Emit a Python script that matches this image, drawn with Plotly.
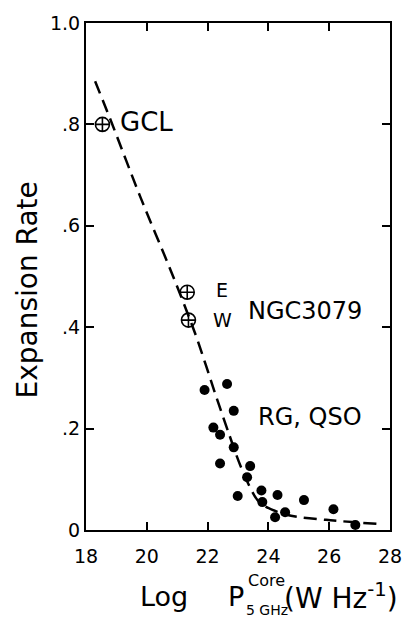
import plotly.graph_objects as go

# Data
rg_x = [21.9, 22.64, 22.19, 22.41, 22.86, 22.86, 22.41, 23.4, 23.3, 22.99, 23.77, 23.8, 24.3, 24.22, 24.55, 25.17, 26.14, 26.86]
rg_y = [0.276, 0.288, 0.202, 0.188, 0.235, 0.163, 0.131, 0.126, 0.104, 0.067, 0.078, 0.055, 0.069, 0.025, 0.035, 0.059, 0.041, 0.010]

open_x = [18.54, 21.33, 21.37]
open_y = [0.80, 0.469, 0.414]

fit_x = [18.3, 18.8, 19.8, 20.8, 21.6, 22.3, 22.7, 23.1, 23.7, 24.6, 25.9, 27.6]
fit_y = [0.885, 0.81, 0.655, 0.51, 0.386, 0.26, 0.19, 0.124, 0.055, 0.03, 0.02, 0.012]

x_ticks = [18, 20, 22, 24, 26, 28]
y_ticks = [0, 0.2, 0.4, 0.6, 0.8, 1.0]
y_ticktext = ["0", ".2", ".4", ".6", ".8", "1.0"]

FONT = "DejaVu Sans"

fig = go.Figure()
fig.add_trace(go.Scatter(x=fit_x, y=fit_y, mode="lines",
                         line=dict(color="black", width=2.5, dash="13px,7px", shape="spline", smoothing=0.8),
                         hoverinfo="skip", showlegend=False))
fig.add_trace(go.Scatter(x=rg_x, y=rg_y, mode="markers",
                         marker=dict(color="black", size=10, symbol="circle"), showlegend=False))
fig.add_trace(go.Scatter(x=open_x, y=open_y, mode="markers",
                         marker=dict(color="black", size=14, symbol="circle-cross-open", line=dict(width=1.6, color="black")),
                         showlegend=False))

# Point labels
fig.add_annotation(x=open_x[0], y=open_y[0], text="GCL", showarrow=False, xanchor="left", xshift=16, yshift=2,
                   font=dict(family=FONT, size=26, color="black"))
fig.add_annotation(x=open_x[1], y=open_y[1], text="E", showarrow=False, xanchor="left", xshift=27, yshift=2,
                   font=dict(family=FONT, size=19, color="black"))
fig.add_annotation(x=open_x[2], y=open_y[2], text="W", showarrow=False, xanchor="left", xshift=23, yshift=0,
                   font=dict(family=FONT, size=19, color="black"))
fig.add_annotation(x=23.27, y=0.432, text="NGC3079", showarrow=False, xanchor="left",
                   font=dict(family=FONT, size=24, color="black"))
fig.add_annotation(x=23.6, y=0.222, text="RG, QSO", showarrow=False, xanchor="left",
                   font=dict(family=FONT, size=24, color="black"))

# Pixel -> paper helpers for text placed outside the plot area
def px(xp):
    return (xp - 86) / 315.0

def py(yp):
    return (530 - yp) / 510.0

# Y-axis title
fig.add_annotation(xref="paper", yref="paper", x=px(25), y=py(289), text="Expansion Rate", showarrow=False,
                   textangle=-90, xanchor="center", yanchor="middle",
                   font=dict(family=FONT, size=28, color="black"))

# X-axis title built from pieces (stacked super/subscript)
fig.add_annotation(xref="paper", yref="paper", x=px(140), y=py(597), text="Log", showarrow=False,
                   xanchor="left", yanchor="middle", font=dict(family=FONT, size=27, color="black"))
fig.add_annotation(xref="paper", yref="paper", x=px(252), y=py(597), text="P", showarrow=False,
                   xanchor="right", yanchor="middle", font=dict(family=FONT, size=27, color="black"))
fig.add_annotation(xref="paper", yref="paper", x=px(252), y=py(581), text="Core", showarrow=False,
                   xanchor="left", yanchor="middle", font=dict(family=FONT, size=16, color="black"))
fig.add_annotation(xref="paper", yref="paper", x=px(250), y=py(610), text="5 GHz", showarrow=False,
                   xanchor="left", yanchor="middle", font=dict(family=FONT, size=14, color="black"))
fig.add_annotation(xref="paper", yref="paper", x=px(289), y=py(597), text="(W Hz<sup>-1</sup>)", showarrow=False,
                   xanchor="left", yanchor="middle", font=dict(family=FONT, size=28, color="black"))

axis_common = dict(showline=True, linecolor="black", linewidth=2, mirror="ticks", ticks="inside",
                   ticklen=8, tickwidth=2, tickcolor="black", showgrid=False, zeroline=False,
                   tickfont=dict(family=FONT, size=19, color="black"))

fig.update_xaxes(range=[18, 28], tickvals=x_ticks, ticktext=[str(v) for v in x_ticks],
                 ticklabelstandoff=8, **axis_common)
fig.update_yaxes(range=[0, 1], tickvals=y_ticks, ticktext=y_ticktext, **axis_common)

fig.update_layout(width=414, height=619, margin=dict(l=86, r=13, t=20, b=89),
                  paper_bgcolor="white", plot_bgcolor="white", showlegend=False,
                  font=dict(family=FONT, color="black"))

fig.write_html("out.html")
